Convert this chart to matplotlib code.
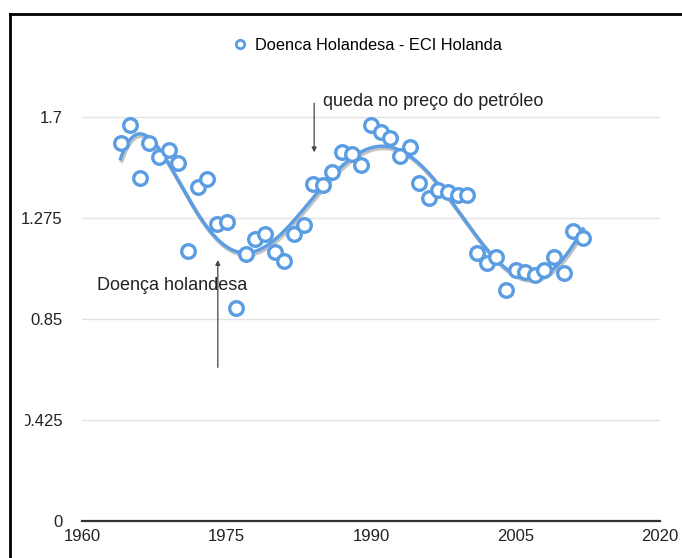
import matplotlib.pyplot as plt
import matplotlib.transforms as mtransforms
from matplotlib.patches import Rectangle
from matplotlib.lines import Line2D
import numpy as np

plt.rcParams['font.family'] = ['Liberation Sans', 'DejaVu Sans']

# ECI Holanda, um ponto por ano
anos = list(range(1964, 2013))
eci = [1.592, 1.666, 1.442, 1.589, 1.533, 1.561, 1.505, 1.137, 1.404, 1.440,
       1.250, 1.259, 0.895, 1.124, 1.185, 1.208, 1.133, 1.095, 1.208, 1.246,
       1.417, 1.414, 1.470, 1.554, 1.543, 1.498, 1.666, 1.638, 1.610, 1.536,
       1.575, 1.421, 1.358, 1.393, 1.386, 1.374, 1.370, 1.126, 1.084, 1.110,
       0.972, 1.056, 1.049, 1.035, 1.056, 1.110, 1.045, 1.220, 1.190]

x_ticks = [1960, 1975, 1990, 2005, 2020]
y_ticks = [0, 0.425, 0.85, 1.275, 1.7]
y_labels = ['0', '0.425', '0.85', '1.275', '1.7']
serie = 'Doenca Holandesa - ECI Holanda'

azul = '#5a9de3'

fig = plt.figure(figsize=(6.82, 5.58), dpi=100)
W, H = 682.0, 558.0
ax = fig.add_axes([82 / W, 1 - 521 / H, (660 - 82) / W, (521 - 81.4) / H])

ax.set_xlim(1960, 2020)
ax.set_ylim(0, 1.85)
for s in ['top', 'right', 'left']:
    ax.spines[s].set_visible(False)
ax.spines['bottom'].set_color('#333333')
ax.spines['bottom'].set_linewidth(1.6)
ax.set_xticks(x_ticks)
ax.set_yticks(y_ticks)
ax.set_yticklabels(y_labels)
ax.tick_params(axis='both', length=0, labelsize=12, colors='#222222')
ax.tick_params(axis='y', pad=14)
ax.tick_params(axis='x', pad=6)
for yv in y_ticks[1:]:
    ax.axhline(yv, color='#e3e3e3', lw=1, zorder=0)

# linha de tendencia (polinomio de grau 6 sobre os dados)
xa = np.array(anos, dtype=float)
c = np.polyfit(xa - 1988, eci, 6)
xs = np.linspace(anos[0], anos[-1], 300)
ys = np.polyval(c, xs - 1988)
sombra = mtransforms.offset_copy(ax.transData, fig=fig, x=1.2, y=-2.0, units='dots')
ax.plot(xs, ys, color='#9a9a9a', lw=3, alpha=0.6, transform=sombra, zorder=2)
ax.plot(xs, ys, color=azul, lw=2.4, zorder=3)

ax.plot(anos, eci, 'o', ms=9.8, mfc='white', mec=azul, mew=2.4, zorder=4, clip_on=False)

# anotacoes
ax.annotate('', xy=(1984.1, 1.54), xytext=(1984.1, 1.77),
            arrowprops=dict(arrowstyle='-|>', color='#444444', lw=0.9, mutation_scale=7))
ax.text(1985.0, 1.765, 'queda no preço do petróleo', fontsize=13, color='#222222',
        ha='left', va='center')
ax.annotate('', xy=(1974.1, 1.11), xytext=(1974.1, 0.635),
            arrowprops=dict(arrowstyle='-|>', color='#444444', lw=0.9, mutation_scale=7))
ax.text(1961.6, 0.99, 'Doença holandesa', fontsize=13, color='#222222',
        ha='left', va='center')

h = Line2D([], [], marker='o', ls='none', ms=6, mfc='white', mec=azul, mew=2)
fig.legend([h], [serie], loc='center', bbox_to_anchor=(366 / W, 1 - 45 / H),
           frameon=False, fontsize=11.8, handletextpad=0.3, handlelength=1.2)

# recorte e moldura do slide
fig.add_artist(Rectangle((11 / W, 1 - 435 / H), 13.5 / W, 28 / H, transform=fig.transFigure,
                         facecolor='white', edgecolor='none', zorder=5))
fig.add_artist(Line2D([10 / W, 10 / W], [0, 1 - 14 / H], transform=fig.transFigure,
                      color='black', lw=2, zorder=6))
fig.add_artist(Line2D([10 / W, 1], [1 - 14 / H, 1 - 14 / H], transform=fig.transFigure,
                      color='black', lw=2, zorder=6))

fig.savefig('out.png', dpi=100)
